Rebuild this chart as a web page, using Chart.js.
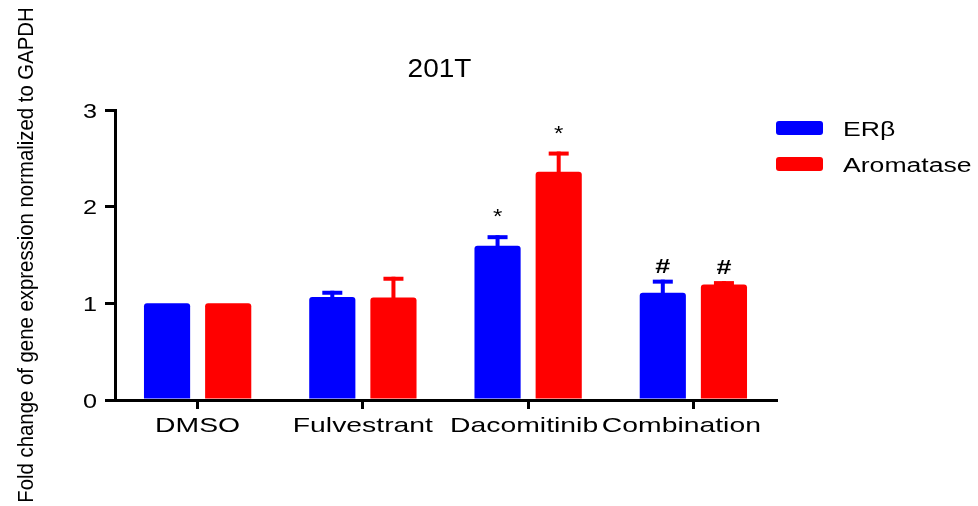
<!DOCTYPE html>
<html>
<head>
<meta charset="utf-8">
<script src="https://cdn.jsdelivr.net/npm/chart.js@4/dist/chart.umd.min.js"></script>
<style>
    html, body { margin: 0; padding: 0; background: #fff; }
    #wrap { width: 978px; height: 506px; }
</style>
</head>
<body>
<div id="wrap"><canvas id="qpcrChart" width="978" height="506"></canvas></div>
<script>
const chartTitle = '201T';
const yAxisTitle = 'Fold change of gene expression normalized to GAPDH';
const categories = ['DMSO', 'Fulvestrant', 'Dacomitinib', 'Combination'];
const seriesNames = ['ERβ', 'Aromatase'];
const erbValues = [1.0, 1.065, 1.595, 1.11];
const erbErrors = [0.0, 0.065, 0.11, 0.135];
const aromataseValues = [1.0, 1.06, 2.36, 1.195];
const aromataseErrors = [0.0, 0.215, 0.21, 0.035];
const erbMarks = ['', '', '*', '#'];
const aromataseMarks = ['', '', '*', '#'];
const yTicks = [0, 1, 2, 3];

const FONT = "'Liberation Sans', Arial, sans-serif";
const errorsBySeries = [erbErrors, aromataseErrors];
const marksBySeries = [erbMarks, aromataseMarks];
// the source nudges the crowded last two labels left a little
const labelNudge = [0, 0, -4, -12];

// the source figure has its text stretched sideways, so draw text with a horizontal scale
function drawText(ctx, text, x, y, size, sx, align, weight) {
    ctx.save();
    ctx.translate(x, y);
    ctx.scale(sx, 1);
    ctx.font = (weight || 'normal') + ' ' + size + 'px ' + FONT;
    ctx.fillStyle = '#000';
    ctx.textAlign = align || 'left';
    ctx.textBaseline = 'alphabetic';
    ctx.fillText(text, 0, 0);
    ctx.restore();
}

// error bars (upper only) + significance marks
const errorBarPlugin = {
    id: 'errorBars',
    afterDatasetsDraw(chart) {
        const ctx = chart.ctx;
        const yScale = chart.scales.y;
        chart.data.datasets.forEach((ds, di) => {
            const meta = chart.getDatasetMeta(di);
            meta.data.forEach((bar, i) => {
                const err = errorsBySeries[di][i];
                const top = yScale.getPixelForValue(ds.data[i] + err);
                ctx.save();
                ctx.fillStyle = ds.backgroundColor;
                if (err > 0) {
                    ctx.fillRect(bar.x - 2, top, 4, bar.y - top + 2);
                    ctx.fillRect(bar.x - 10, top, 20, 4);
                }
                ctx.restore();
                const mark = marksBySeries[di][i];
                if (mark === '#') {
                    drawText(ctx, mark, bar.x, top - 7, 20, 1.35, 'center', 'bold');
                } else if (mark) {
                    drawText(ctx, mark, bar.x, top - 12, 20, 1.2, 'center');
                }
            });
        });
    }
};

// title, tick labels, axis title and legend
const textPlugin = {
    id: 'texts',
    afterDraw(chart) {
        const ctx = chart.ctx;
        const area = chart.chartArea;
        const xScale = chart.scales.x;
        const yScale = chart.scales.y;

        drawText(ctx, chartTitle, (area.left + area.right) / 2 - 6, 76.5, 25, 1.12, 'center');

        categories.forEach((label, i) => {
            drawText(ctx, label, xScale.getPixelForTick(i) + labelNudge[i], 431.5, 21, 1.35, 'center');
        });
        yTicks.forEach(v => {
            drawText(ctx, String(v), 97, yScale.getPixelForValue(v) + 7.5, 21, 1.2, 'right');
        });

        ctx.save();
        ctx.translate(33, 255);
        ctx.rotate(-Math.PI / 2);
        drawText(ctx, yAxisTitle, 0, 0, 22, 0.925, 'center');
        ctx.restore();

        chart.data.datasets.forEach((ds, di) => {
            const y = 121 + di * 36;
            ctx.save();
            ctx.fillStyle = ds.backgroundColor;
            ctx.beginPath();
            ctx.roundRect(776, y, 47, 14, 3);
            ctx.fill();
            ctx.restore();
            drawText(ctx, ds.label, 843, y + 14.5, 20, 1.33, 'left');
        });
    }
};

const ctx = document.getElementById('qpcrChart').getContext('2d');
new Chart(ctx, {
    type: 'bar',
    data: {
        labels: categories,
        datasets: [
            { label: seriesNames[0], data: erbValues, backgroundColor: '#0000ff', borderRadius: 3, borderSkipped: 'start' },
            { label: seriesNames[1], data: aromataseValues, backgroundColor: '#ff0000', borderRadius: 3, borderSkipped: 'start' }
        ]
    },
    options: {
        responsive: false,
        animation: false,
        categoryPercentage: 0.74,
        barPercentage: 0.755,
        layout: { padding: { left: 0, right: 202, top: 110, bottom: 0 } },
        scales: {
            x: {
                offset: true,
                grid: { offset: false, drawOnChartArea: false, drawTicks: true, tickLength: 9, color: '#000', lineWidth: 3 },
                border: { color: '#000', width: 3 },
                ticks: { display: false },
                afterFit: scale => { scale.height = 106; }
            },
            y: {
                min: 0,
                max: 3,
                afterBuildTicks: scale => { scale.ticks = yTicks.map(v => ({ value: v })); },
                grid: { drawOnChartArea: false, drawTicks: true, tickLength: 10, color: '#000', lineWidth: 3 },
                border: { color: '#000', width: 3 },
                ticks: { display: false },
                afterFit: scale => { scale.width = 115; }
            }
        },
        plugins: {
            legend: { display: false },
            title: { display: false },
            tooltip: { enabled: false }
        }
    },
    plugins: [errorBarPlugin, textPlugin]
});
</script>
</body>
</html>
